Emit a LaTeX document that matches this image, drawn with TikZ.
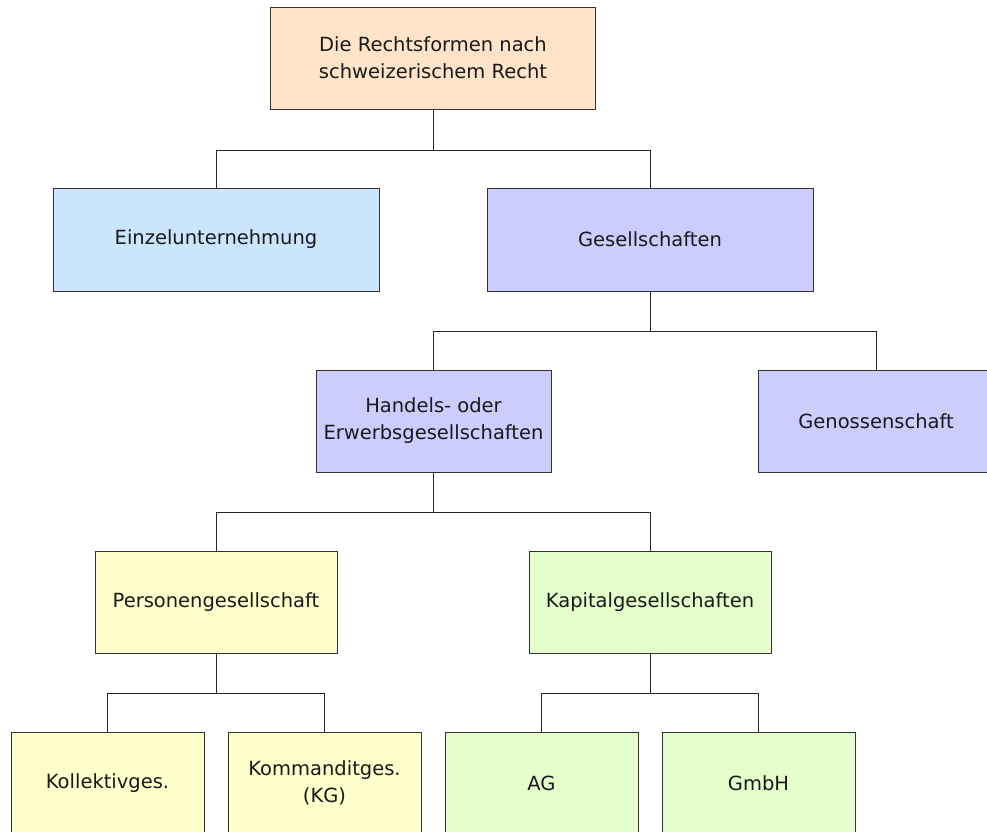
\documentclass[tikz,border=0pt]{standalone}
\usepackage{fontspec}
\setmainfont{DejaVu Sans}
\definecolor{cpeach}{HTML}{FFE4CA}
\definecolor{cblue}{HTML}{CCE5FF}
\definecolor{clav}{HTML}{CCCCFF}
\definecolor{cyel}{HTML}{FFFFCC}
\definecolor{cgreen}{HTML}{E4FFCC}
\definecolor{cline}{HTML}{333333}
\tikzset{
  box/.style={draw=cline, line width=1pt, rectangle, inner sep=0pt, align=center,
    font=\fontsize{19.5}{27}\selectfont, text=black!90},
  big/.style={box, minimum width=326pt, minimum height=103pt},
  mid/.style={box, minimum width=235pt, minimum height=102pt},
  mid2/.style={box, minimum width=242pt, minimum height=102pt},
  small/.style={box, minimum width=193pt, minimum height=102pt},
  conn/.style={draw=black!85, line width=1pt}
}
\begin{document}
\begin{tikzpicture}[x=1pt,y=1pt]
\useasboundingbox (0,0) rectangle (987,-831);
\clip (0,0) rectangle (987,-831);
\fill[white] (0,0) rectangle (987,-831);
\node[big, fill=cpeach, minimum width=325pt, minimum height=102pt] (root) at (433,-58) {Die Rechtsformen nach\\schweizerischem Recht};
\node[big, fill=cblue] (einzel) at (216,-239.5) {Einzelunternehmung};
\node[big, fill=clav] (gesell) at (650,-239.5) {Gesellschaften};
\node[mid, fill=clav] (handels) at (433.5,-421) {Handels- oder\\Erwerbsgesellschaften};
\node[mid, fill=clav] (genoss) at (876,-421) {Genossenschaft};
\node[mid2, fill=cyel] (personen) at (216,-602) {Personengesellschaft};
\node[mid2, fill=cgreen] (kapital) at (650,-602) {Kapitalgesellschaften};
\node[small, fill=cyel] (kollektiv) at (107.5,-783) {Kollektivges.};
\node[small, fill=cyel] (kommandit) at (324.5,-783) {Kommanditges.\\(KG)};
\node[small, fill=cgreen] (ag) at (541.5,-783) {AG};
\node[small, fill=cgreen] (gmbh) at (758.5,-783) {GmbH};
\draw[conn] (root.south) -- +(0,-41) -| (einzel.north);
\draw[conn] (root.south) -- +(0,-41) -| (gesell.north);
\draw[conn] (gesell.south) -- +(0,-40) -| (handels.north);
\draw[conn] (gesell.south) -- +(0,-40) -| (genoss.north);
\draw[conn] (handels.south) -- +(0,-40) -| (personen.north);
\draw[conn] (handels.south) -- +(0,-40) -| (kapital.north);
\draw[conn] (personen.south) -- +(0,-40) -| (kollektiv.north);
\draw[conn] (personen.south) -- +(0,-40) -| (kommandit.north);
\draw[conn] (kapital.south) -- +(0,-40) -| (ag.north);
\draw[conn] (kapital.south) -- +(0,-40) -| (gmbh.north);
\end{tikzpicture}
\end{document}
